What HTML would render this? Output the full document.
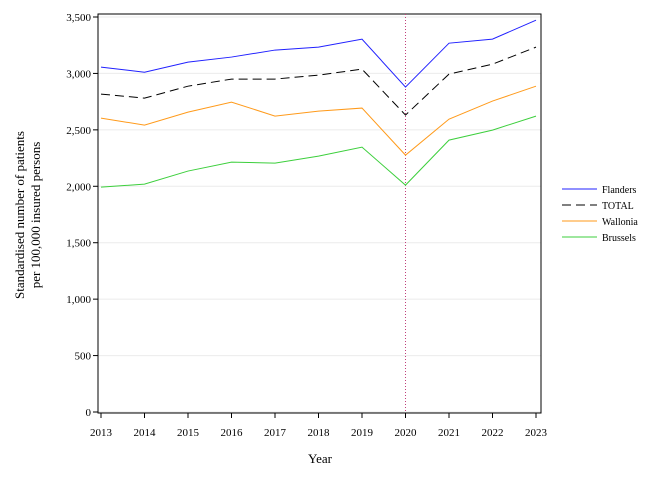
<!DOCTYPE html>
<html><head><meta charset="utf-8"><style>
body{margin:0;background:#fff}
svg text{font-family:"Liberation Serif",serif;fill:#000}
</style></head><body>
<svg id="chart" width="672" height="480" viewBox="0 0 672 480" xmlns="http://www.w3.org/2000/svg">
<g id="grid"></g>
<g id="axes"></g>
<g id="series"></g>
<g id="legend"></g>
<text x="320" y="463" font-size="13" text-anchor="middle">Year</text>
<text transform="translate(24,215) rotate(-90)" font-size="13" text-anchor="middle"><tspan x="0" dy="0">Standardised number of patients</tspan><tspan x="0" dy="16">per 100,000 insured persons</tspan></text>
</svg>
<script>
const years=[2013,2014,2015,2016,2017,2018,2019,2020,2021,2022,2023];
const flanders=[3056,3011,3100,3145,3207,3233,3304,2879,3268,3304,3472];
const total=[2817,2781,2887,2950,2950,2985,3038,2631,2994,3082,3233];
const wallonia=[2604,2542,2657,2746,2622,2666,2693,2276,2595,2755,2887];
const brussels=[1993,2019,2135,2214,2205,2267,2347,2010,2409,2498,2622];
const yTicks=[0,500,1000,1500,2000,2500,3000,3500];
const yTickLabels=["0","500","1,000","1,500","2,000","2,500","3,000","3,500"];
const NS="http://www.w3.org/2000/svg";
const X0=101,X1=536,Y0=412,Y1=17,L=98,R=541,T=14;
const x=v=>X0+(v-years[0])/(years[years.length-1]-years[0])*(X1-X0);
const y=v=>Y0-(v/3500)*(Y0-Y1);
function mk(tag,attrs,parent){const e=document.createElementNS(NS,tag);for(const k in attrs)e.setAttribute(k,attrs[k]);parent.appendChild(e);return e;}
const grid=document.getElementById('grid'),axes=document.getElementById('axes'),ser=document.getElementById('series'),leg=document.getElementById('legend');
yTicks.forEach((t,i)=>{
 const g=mk('line',{x1:L,x2:R,y1:y(t),y2:y(t),stroke:'#ebebeb'},grid);
 
 
 const tk=mk('line',{x1:L-5,x2:L,y1:y(t),y2:y(t),stroke:'#000'},axes);
 
 
 const tx=mk('text',{x:L-7,y:y(t)+4,'font-size':11,'text-anchor':'end'},axes);
 tx.textContent=yTickLabels[i];
 
 
});
years.forEach(yr=>{
 const tk=mk('line',{x1:x(yr),x2:x(yr),y1:Y0+1,y2:Y0+6,stroke:'#000'},axes);
 
 
 const tx=mk('text',{x:x(yr),y:Y0+24,'font-size':11,'text-anchor':'middle'},axes);
 tx.textContent=yr;
 
 
});
const fr=mk('rect',{x:L,y:T,width:R-L,height:Y0+1-T,fill:'none',stroke:'#000'},axes);


const vl=mk('line',{x1:x(2020),x2:x(2020),y1:T,y2:Y0,stroke:'#c0407a','stroke-dasharray':'1,2'},ser);


const S=[["Flanders",flanders,"#2020ff",""],["TOTAL",total,"#000","9,5"],["Wallonia",wallonia,"#ff9a1a",""],["Brussels",brussels,"#3ccf3c",""]];
S.forEach((s,i)=>{
 const p=mk('polyline',{points:years.map((yr,j)=>x(yr)+','+y(s[1][j])).join(' '),fill:'none',stroke:s[2],'stroke-width':1,'stroke-dasharray':s[3]},ser);
 
 
 const ly=189+i*16;
 const ll=mk('line',{x1:562,x2:597,y1:ly,y2:ly,stroke:s[2],'stroke-dasharray':s[3]},leg);
 
 
 const lt=mk('text',{x:602,y:ly+4,'font-size':10},leg);
 lt.textContent=s[0];
 
 
});
</script>
</body></html>
